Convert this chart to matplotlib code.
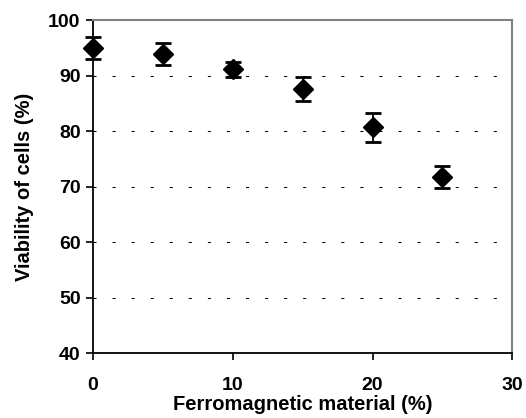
import matplotlib.pyplot as plt

plt.rcParams['font.family'] = ['Liberation Sans', 'DejaVu Sans']

material = [0, 5, 10, 15, 20, 25]
viability = [95.0, 93.9, 91.1, 87.6, 80.7, 71.7]
errors = [2.0, 2.0, 1.3, 2.2, 2.6, 2.0]

x_ticks = [0, 10, 20, 30]
y_ticks = [40, 50, 60, 70, 80, 90, 100]

fig = plt.figure(figsize=(5.26, 4.18), dpi=100)
ax = fig.add_axes([0.177, 0.155, 0.797, 0.797])

bars = ax.errorbar(material, viability, yerr=errors, fmt='D', color='black',
                   markersize=10, elinewidth=1.3, capsize=5.5, capthick=2, zorder=3)
for artist in bars.lines[0:1] + bars.lines[1] + bars.lines[2]:
    artist.set_clip_on(False)

ax.set_xlim(0, 30)
ax.set_ylim(40, 100)
ax.set_xticks(x_ticks)
ax.set_yticks(y_ticks)

for y in y_ticks[1:-1]:
    ax.axhline(y, color='black', lw=0.75, linestyle=(0, (2.9, 15.4)), zorder=1)

for side in ['left', 'bottom']:
    ax.spines[side].set_color('black')
    ax.spines[side].set_linewidth(1.3)
for side in ['top', 'right']:
    ax.spines[side].set_color('#808080')
    ax.spines[side].set_linewidth(1.5)

ax.tick_params(direction='out', length=5, width=1.2, labelsize=14, pad=4)
ax.tick_params(axis='x', pad=12)
for lbl in ax.get_xticklabels() + ax.get_yticklabels():
    lbl.set_fontweight('bold')

ax.set_xlabel('Ferromagnetic material (%)', fontsize=14.5, fontweight='bold', labelpad=1)
ax.set_ylabel('Viability of cells (%)', fontsize=14.5, fontweight='bold', labelpad=10)

fig.savefig('out.png', dpi=100)
